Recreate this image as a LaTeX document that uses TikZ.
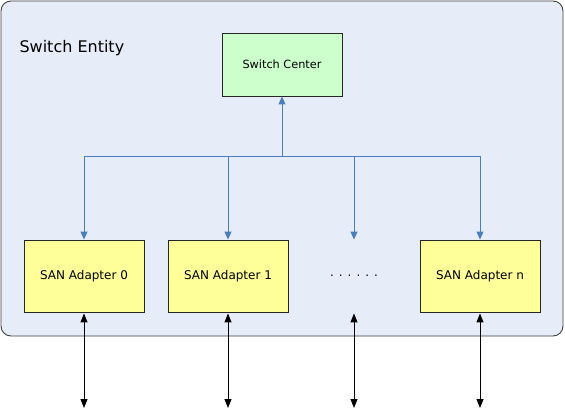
\documentclass[tikz,border=0pt]{standalone}
\usepackage{fontspec}
\setmainfont{DejaVu Sans}
\usetikzlibrary{arrows.meta}
\definecolor{entityfill}{HTML}{E7EDF8}
\definecolor{entityline}{HTML}{404040}
\definecolor{centerfill}{HTML}{CCFFCC}
\definecolor{adapterfill}{HTML}{FFFF99}
\definecolor{buscolor}{HTML}{4A7EBB}
\tikzset{block/.style={draw=black!85,line width=.9pt,minimum width=120pt,minimum height=72pt,inner sep=0pt,font=\fontsize{12}{14}\selectfont},center/.style={block,fill=centerfill,minimum height=63pt,font=\fontsize{11.3}{13}\selectfont},adapter/.style={block,fill=adapterfill},gap/.style={block,draw=none},bus/.style={draw=buscolor,line width=.9pt},bus edge/.style={bus,-{Triangle[length=8pt,width=7pt]}},link edge/.style={{Triangle[length=9pt,width=7pt]}-{Triangle[length=9pt,width=7pt]},line width=1pt,shorten <=1pt},entity/.style={draw=entityline,fill=entityfill,line width=.9pt,rounded corners=10pt}}

\begin{document}
\begin{tikzpicture}[x=1pt,y=-1pt]
 \useasboundingbox (0,0) rectangle (565,409);
 \draw[entity] (1,1) rectangle (563,336);
 \node[anchor=west,font=\fontsize{16}{18}\selectfont] (title) at (16,48) {Switch Entity};
 \node[center] (sc) at (282,64.5) {Switch Center};
 \node[adapter] (a0) at (84,276) {SAN Adapter 0};
 \node[adapter] (a1) at (228,276) {SAN Adapter 1};
 \node[gap] (a2) at (354,276) {.\hspace{5pt}.\hspace{5pt}.\hspace{5pt}.\hspace{5pt}.\hspace{5pt}.};
 \node[adapter] (a3) at (480,276) {SAN Adapter n};
 \coordinate (bus) at (282,156);
 \draw[bus edge] (bus) -- (sc.south);
 \draw[bus] (a0.north |- bus) -- (a3.north |- bus);
 \foreach \i in {0,1,2,3} {
   \draw[bus edge] (a\i.north |- bus) -- (a\i.north);
   \coordinate (end\i) at (a\i.south |- 0,408);
   \draw[link edge] (a\i.south) -- (end\i);
 }
\end{tikzpicture}
\end{document}
